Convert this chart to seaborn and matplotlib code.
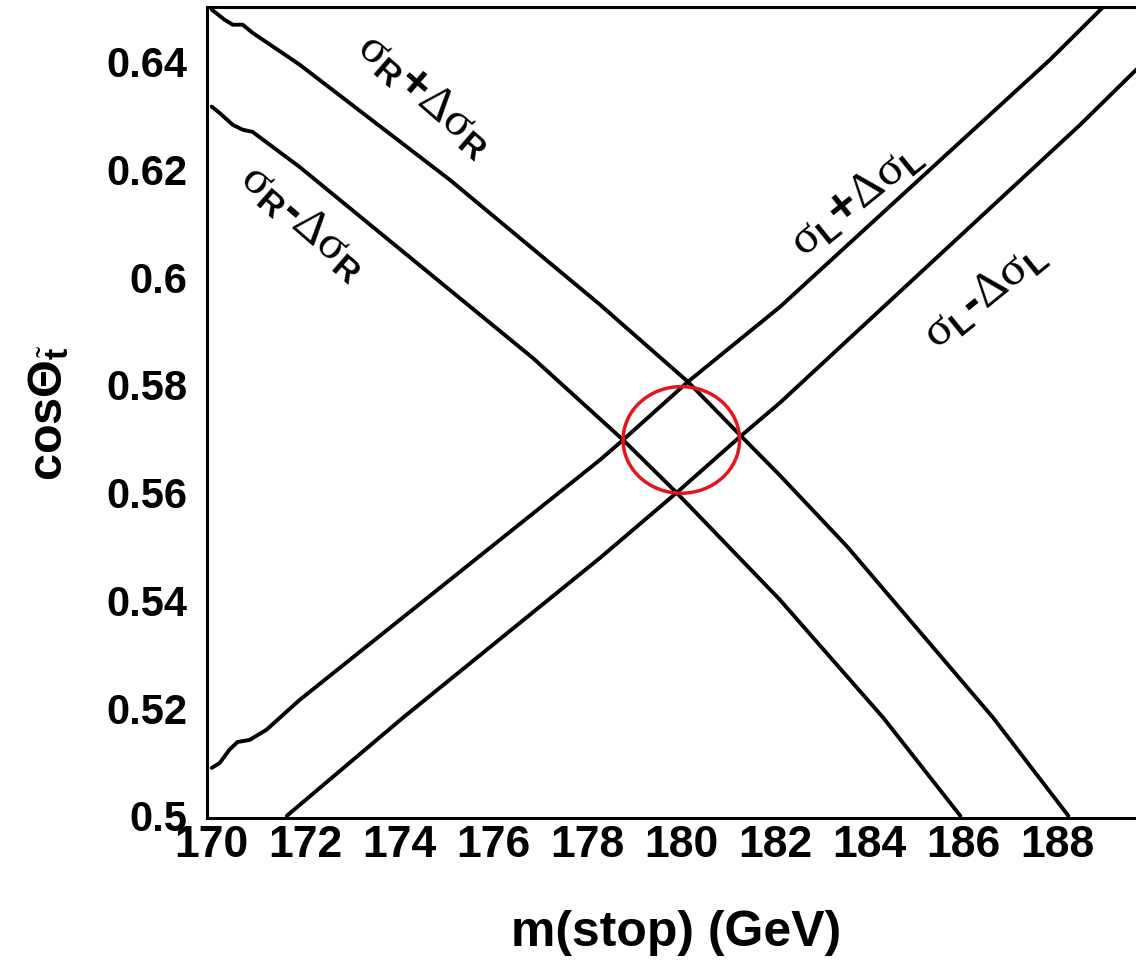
import matplotlib
matplotlib.use('Agg')
import matplotlib.pyplot as plt
from matplotlib.patches import Ellipse
from matplotlib.ticker import FixedLocator, MultipleLocator, FormatStrFormatter
import seaborn as sns
import pandas as pd

sns.set_style('white')
plt.rcParams['font.family'] = ['Liberation Sans', 'DejaVu Sans']
plt.rcParams['font.weight'] = 'bold'
plt.rcParams['text.color'] = 'black'
plt.rcParams['axes.labelcolor'] = 'black'
plt.rcParams['xtick.color'] = 'black'
plt.rcParams['ytick.color'] = 'black'
plt.rcParams['mathtext.fontset'] = 'custom'
plt.rcParams['mathtext.rm'] = 'Liberation Serif:weight=normal'
plt.rcParams['mathtext.it'] = 'Liberation Serif:italic:weight=normal'
plt.rcParams['mathtext.bf'] = 'Liberation Sans:bold'
plt.rcParams['mathtext.sf'] = 'Liberation Sans:bold'

# curves: m(stop) in GeV, cos(theta) values
r_plus_m = [170.0, 170.28, 170.45, 170.66, 170.87, 171.87, 175.07, 178.27, 180.14, 181.25, 182.1, 183.53, 186.64, 188.24]
r_plus_cos = [0.6497, 0.6478, 0.6469, 0.6469, 0.6454, 0.6395, 0.6181, 0.5949, 0.5806, 0.5707, 0.5632, 0.5500, 0.5182, 0.5000]

r_minus_m = [170.0, 170.17, 170.45, 170.66, 170.87, 171.87, 176.84, 178.76, 179.9, 182.1, 184.3, 185.94]
r_minus_cos = [0.6317, 0.6305, 0.6283, 0.6274, 0.6270, 0.6205, 0.5850, 0.5698, 0.5600, 0.5401, 0.5182, 0.5000]

l_plus_m = [170.0, 170.17, 170.38, 170.55, 170.81, 171.17, 171.87, 178.27, 178.76, 180.14, 182.1, 187.85, 188.96]
l_plus_cos = [0.5089, 0.5098, 0.5123, 0.5137, 0.5141, 0.5160, 0.5215, 0.5661, 0.5698, 0.5806, 0.5945, 0.6404, 0.6500]

l_minus_m = [171.6, 174.07, 178.27, 179.9, 181.25, 182.1, 188.49, 189.68, 190.0]
l_minus_cos = [0.5000, 0.5182, 0.5479, 0.5600, 0.5704, 0.5767, 0.6283, 0.6385, 0.6412]

curve_names = ['R+', 'R-', 'L+', 'L-']
curve_labels = [r'$\mathrm{\sigma}_{\mathbf{R}}$+$\mathrm{\Delta\sigma}_{\mathbf{R}}$',
                r'$\mathrm{\sigma}_{\mathbf{R}}$-$\mathrm{\Delta\sigma}_{\mathbf{R}}$',
                r'$\mathrm{\sigma}_{\mathbf{L}}$+$\mathrm{\Delta\sigma}_{\mathbf{L}}$',
                r'$\mathrm{\sigma}_{\mathbf{L}}$-$\mathrm{\Delta\sigma}_{\mathbf{L}}$']
label_m = [174.54, 171.94, 183.74, 186.47]
label_cos = [0.6339, 0.6103, 0.6144, 0.5967]
label_angle = [-41, -41, 39, 39]

# highlighted overlap region
circle_center = (180.0, 0.5698)
circle_width = 2.48
circle_height = 0.0198

xticks = list(range(170, 189, 2))
yticks = [0.5, 0.52, 0.54, 0.56, 0.58, 0.6, 0.62, 0.64]

df = pd.concat([
    pd.DataFrame({'m': r_plus_m, 'cos': r_plus_cos, 'curve': 'R+'}),
    pd.DataFrame({'m': r_minus_m, 'cos': r_minus_cos, 'curve': 'R-'}),
    pd.DataFrame({'m': l_plus_m, 'cos': l_plus_cos, 'curve': 'L+'}),
    pd.DataFrame({'m': l_minus_m, 'cos': l_minus_cos, 'curve': 'L-'}),
], ignore_index=True)

fig = plt.figure(figsize=(11.36, 9.63), dpi=100)
ax = fig.add_axes([0.1822, 0.1506, 0.831, 0.8422])

sns.lineplot(data=df, x='m', y='cos', hue='curve', hue_order=curve_names,
             palette={n: 'black' for n in curve_names}, estimator=None, sort=False,
             legend=False, linewidth=2.8, ax=ax)

ax.add_patch(Ellipse(circle_center, circle_width, circle_height, fill=False,
                     edgecolor='#e8141b', linewidth=2.5, zorder=5))

for lab, xm, yc, ang in zip(curve_labels, label_m, label_cos, label_angle):
    ax.text(xm, yc, lab, fontsize=35, rotation=ang, rotation_mode='anchor',
            ha='center', va='center', color='black')

ax.set_xlim(169.9, 190.0)
ax.set_ylim(0.4996, 0.6502)
ax.xaxis.set_major_locator(FixedLocator(xticks))
ax.xaxis.set_minor_locator(MultipleLocator(0.5))
ax.yaxis.set_major_locator(FixedLocator(yticks))
ax.yaxis.set_minor_locator(MultipleLocator(0.005))
ax.yaxis.set_major_formatter(FormatStrFormatter('%g'))

ax.tick_params(axis='x', which='major', direction='in', length=14, width=1,
               color='#666666', labelcolor='black', labelsize=32, pad=5)
ax.tick_params(axis='x', which='minor', direction='in', length=6, width=1, color='#666666')
ax.tick_params(axis='y', which='major', direction='in', length=10, width=1,
               color='#666666', labelcolor='black', labelsize=30, pad=14)
ax.tick_params(axis='y', which='minor', direction='in', length=8, width=1, color='#666666')
ax.tick_params(top=False, right=False)

for side in ['left', 'bottom', 'top', 'right']:
    ax.spines[side].set_linewidth(2.2)
    ax.spines[side].set_color('black')

ax.set_xlabel('m(stop) (GeV)', fontsize=36, fontweight='bold', color='black')
ax.set_ylabel(r'cos$\mathbf{\Theta}_{\tilde{\mathbf{t}}}$', fontsize=35, fontweight='bold', color='black')
ax.xaxis.set_label_coords(0.497, -0.113)
ax.yaxis.set_label_coords(-0.143, 0.5)

fig.savefig('out.png', dpi=100)
